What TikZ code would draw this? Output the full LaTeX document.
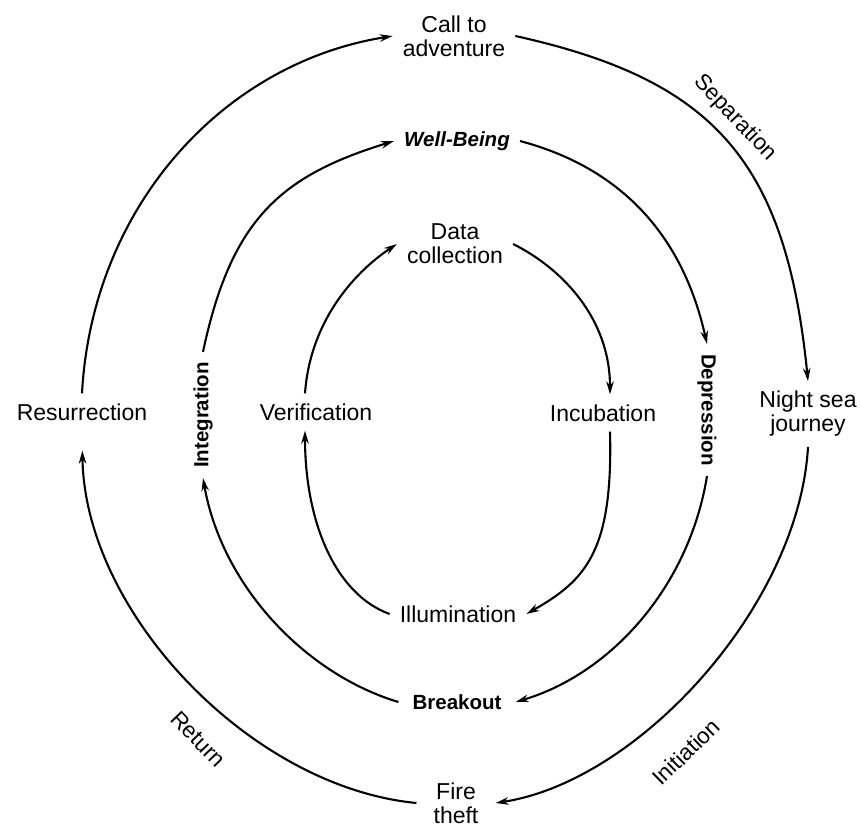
\documentclass[tikz,border=0pt]{standalone}
\usepackage{fontspec}
\setmainfont{Liberation Sans}
\usetikzlibrary{arrows.meta}
\begin{document}
\begin{tikzpicture}[x=1pt,y=-1pt,
  stage/.style={inner sep=10pt, align=center, font=\fontsize{23}{24}\selectfont},
  phase/.style={inner sep=10pt, font=\fontsize{20.5}{24}\selectfont\bfseries},
  curvelabel/.style={inner sep=0pt, font=\fontsize{22.5}{24}\selectfont},
  flow/.style={line width=2.1pt, -{Stealth[length=13pt,width=7.5pt]}}]
\fill[white] (0,0) rectangle (861,829);
\useasboundingbox (0,0) rectangle (861,829);

% outer ring
\node[stage] (call)  at (454,36)  {Call to\\adventure};
\node[stage] (night) at (808,414) {Night sea\\journey};
\node[stage, inner xsep=17pt] (fire) at (456,803) {Fire\\theft};
\node[stage] (resur) at (82,412)  {Resurrection};

% middle ring
\node[phase, font=\fontsize{20.5}{24}\selectfont\bfseries\itshape] (well) at (457,141) {Well-Being};
\node[phase, rotate=-90] (depr) at (707,410) {Depression};
\node[phase, inner xsep=14pt] (brk) at (457,702) {Breakout};
\node[phase, rotate=90] (integ) at (203,415) {Integration};

% inner ring
\node[stage] (data)  at (455,244) {Data\\collection};
\node[stage] (incub) at (603,413) {Incubation};
\node[stage] (illum) at (458,614) {Illumination};
\node[stage] (verif) at (316,412) {Verification};

% curve labels
\node[curvelabel, rotate=-46] (sep)  at (735,118) {Separation};
\node[curvelabel, rotate=44]  (init) at (686,752) {Initiation};
\node[curvelabel, rotate=-46] (ret)  at (198,739) {Return};

% outer connectors
\draw[flow] (call.east) .. controls +(199,44) and +(-22,-220) .. (night.north);
\draw[flow] (night.south) .. controls +(-9,158) and +(144,-22) .. (fire.east);
\draw[flow, shorten >=20pt] (fire.west) .. controls +(-166,-16) and +(3,182) .. (resur.south);
\draw[flow] (resur.north) .. controls +(10,-186) and +(-170,27) .. (call.west);

% middle connectors
\draw[flow] (well.east) .. controls +(98,26) and +(-25,-112) .. (depr.west);
\draw[flow] (depr.east) .. controls +(-18,111) and +(95,-28) .. (brk.east);
\draw[flow] (brk.west) .. controls +(-93,-28) and +(19,108) .. (integ.west);
\draw[flow] (integ.east) .. controls +(28,-132) and +(-114,35) .. (well.west);

% inner connectors
\draw[flow] (data.east) .. controls +(50,25) and +(0,-75) .. ([xshift=7pt]incub.north);
\draw[flow] ([xshift=7pt]incub.south) .. controls +(3,119) and +(60,-34) .. (illum.east);
\draw[flow] (illum.west) .. controls +(-55,-20) and +(0,90) .. ([xshift=-11pt]verif.south);
\draw[flow] ([xshift=-11pt]verif.north) .. controls +(5,-70) and +(-45,30) .. (data.west);
\end{tikzpicture}
\end{document}
